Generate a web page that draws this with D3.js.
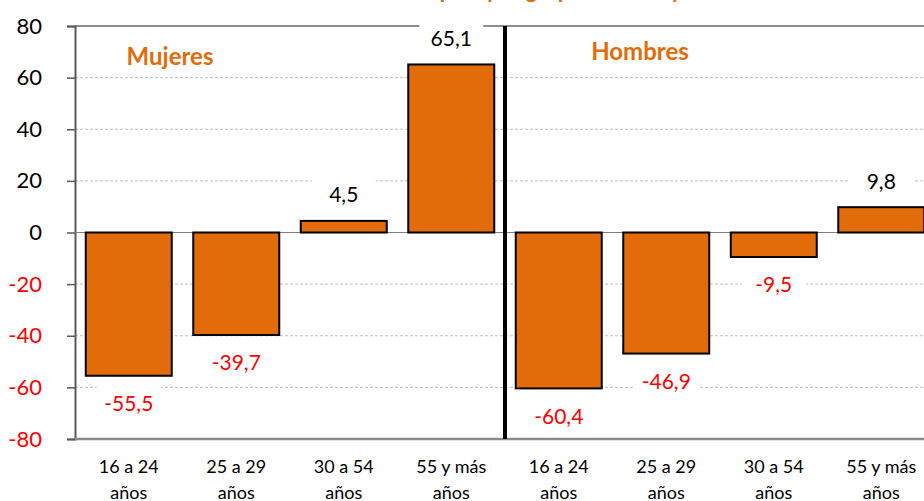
<!DOCTYPE html>
<html>
<head>
<meta charset="utf-8">
<script src="https://cdn.jsdelivr.net/npm/d3@7"></script>
<style>
  body { margin: 0; background: #fff; }
  svg { display: block; font-family: Lato, "Noto Sans", sans-serif; }
</style>
</head>
<body>
<div id="chart"></div>
<script>
// datos
const grupos = ["16 a 24 años", "25 a 29 años", "30 a 54 años", "55 y más años"];
const mujeres = [-55.5, -39.7, 4.5, 65.1];
const hombres = [-60.4, -46.9, -9.5, 9.8];
const yTicks = [-80, -60, -40, -20, 0, 20, 40, 60, 80];
const titulo = "Variación del empleo por grupo de edad y sexo";

const NARANJA = "#E36C0A";
const WIDTH = 924, HEIGHT = 501;
const MARGIN = { top: 26, left: 75, bottom: 62, right: -11 };

const svg = d3.select("#chart").append("svg")
  .attr("width", WIDTH).attr("height", HEIGHT);

const filas = [
  ...grupos.map((g, i) => ({ key: "M" + i, grupo: g, valor: mujeres[i] })),
  ...grupos.map((g, i) => ({ key: "H" + i, grupo: g, valor: hombres[i] }))
];

const x = d3.scaleBand()
  .domain(filas.map(d => d.key))
  .range([MARGIN.left, WIDTH - MARGIN.right])
  .paddingInner(0.2).paddingOuter(0.1);

const y = d3.scaleLinear()
  .domain([-80, 80])
  .range([HEIGHT - MARGIN.bottom, MARGIN.top]);

// guion normal, no el signo menos de d3
const fmt = v => v.toFixed(1).replace(".", ",");

// titulo (cortado arriba, solo se ven los rasgos descendentes)
svg.append("text")
  .attr("x", 505).attr("y", -2)
  .attr("text-anchor", "middle")
  .attr("fill", NARANJA).attr("font-weight", "bold").attr("font-size", 22)
  .text(titulo);

// rejilla
svg.append("g").selectAll("line")
  .data(yTicks.filter(t => t !== 0 && Math.abs(t) !== 80))
  .join("line")
  .attr("x1", MARGIN.left).attr("x2", WIDTH)
  .attr("y1", d => y(d)).attr("y2", d => y(d))
  .attr("stroke", "#BFBFBF").attr("stroke-width", 1)
  .attr("stroke-dasharray", "3,2");

// borde superior
svg.append("line")
  .attr("x1", MARGIN.left).attr("x2", WIDTH)
  .attr("y1", y(80)).attr("y2", y(80))
  .attr("stroke", "#8C8C8C").attr("stroke-width", 2);

// eje y
const ejeY = svg.append("g")
  .attr("transform", `translate(${MARGIN.left},0)`)
  .call(d3.axisLeft(y).tickValues(yTicks).tickSize(8).tickPadding(25).tickFormat(d => String(d)));
ejeY.select(".domain").attr("stroke", "#595959").attr("stroke-width", 2);
ejeY.selectAll(".tick line").attr("stroke", "#595959").attr("stroke-width", 1.5);
ejeY.selectAll(".tick text")
  .attr("font-family", "Lato, sans-serif").attr("font-size", 22)
  .attr("fill", d => d < 0 ? "#FF0000" : "#000");

// linea del cero
svg.append("line")
  .attr("x1", MARGIN.left).attr("x2", WIDTH)
  .attr("y1", y(0)).attr("y2", y(0))
  .attr("stroke", "#808080").attr("stroke-width", 1);

// barras
svg.append("g").selectAll("rect")
  .data(filas)
  .join("rect")
  .attr("x", d => x(d.key))
  .attr("width", x.bandwidth())
  .attr("y", d => y(Math.max(0, d.valor)))
  .attr("height", d => Math.abs(y(d.valor) - y(0)))
  .attr("fill", NARANJA)
  .attr("stroke", "#000").attr("stroke-width", 2);

// eje x
const yBase = y(-80);
svg.append("line")
  .attr("x1", MARGIN.left).attr("x2", WIDTH)
  .attr("y1", yBase).attr("y2", yBase)
  .attr("stroke", "#8C8C8C").attr("stroke-width", 2.5);

const etiquetasX = svg.append("g").selectAll("text")
  .data(filas)
  .join("text")
  .attr("x", d => x(d.key) + x.bandwidth() / 2)
  .attr("y", yBase + 34)
  .attr("text-anchor", "middle")
  .attr("font-size", 18).attr("fill", "#000");
etiquetasX.append("tspan").text(d => d.grupo.split(" años")[0]);
etiquetasX.append("tspan")
  .attr("x", d => x(d.key) + x.bandwidth() / 2).attr("dy", 26)
  .text("años");

// separador mujeres / hombres
const xSep = x("H0") - x.step() * x.paddingInner() / 2;
svg.append("line")
  .attr("x1", xSep).attr("x2", xSep)
  .attr("y1", y(80)).attr("y2", yBase)
  .attr("stroke", "#000").attr("stroke-width", 4);

// etiquetas de valor con fondo blanco
const valores = svg.append("g").selectAll("g")
  .data(filas)
  .join("g")
  .attr("transform", d => {
    const cy = d.valor >= 0 ? y(d.valor) - 26 : y(d.valor) + 28;
    return `translate(${x(d.key) + x.bandwidth() / 2},${cy})`;
  });
valores.append("rect")
  .attr("x", -32).attr("y", -19).attr("width", 64).attr("height", 38)
  .attr("fill", "#fff");
valores.append("text")
  .attr("text-anchor", "middle").attr("dy", "0.35em")
  .attr("font-size", 21)
  .attr("fill", d => d.valor < 0 ? "#FF0000" : "#000")
  .text(d => fmt(d.valor));

// rotulos de serie
svg.append("text")
  .attr("x", 170).attr("y", 65).attr("text-anchor", "middle")
  .attr("fill", NARANJA).attr("font-weight", "bold").attr("font-size", 24)
  .text("Mujeres");
svg.append("text")
  .attr("x", 640).attr("y", 60).attr("text-anchor", "middle")
  .attr("fill", NARANJA).attr("font-weight", "bold").attr("font-size", 24)
  .text("Hombres");
</script>
</body>
</html>
